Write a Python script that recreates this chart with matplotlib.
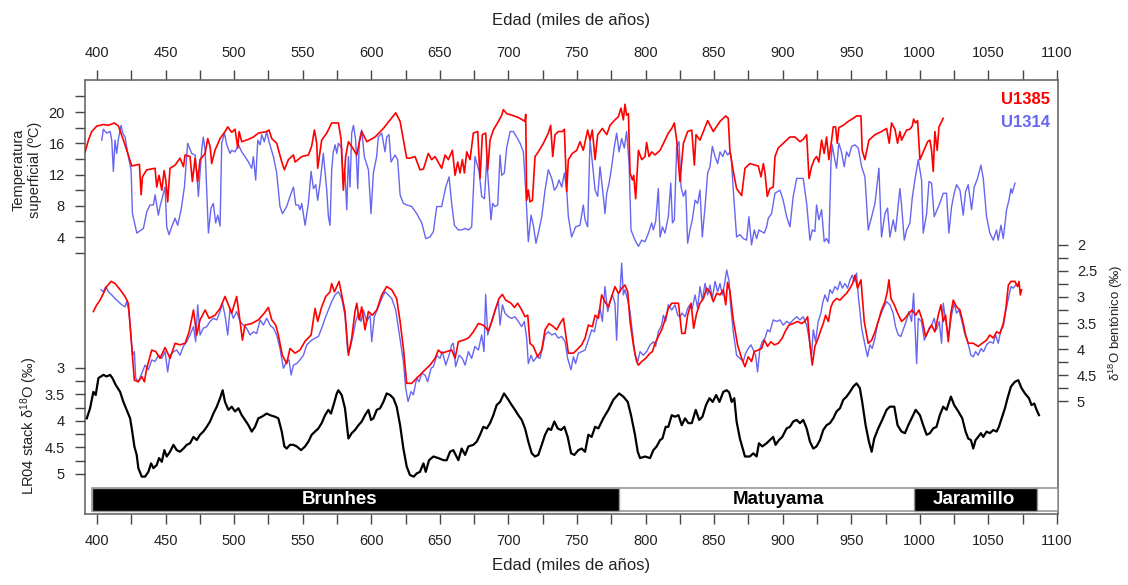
"""
Temperatura superficial y d18O bentonico de U1385 / U1314 frente al stack LR04.
"""

import matplotlib
matplotlib.use("Agg")
import matplotlib.pyplot as plt
import matplotlib.transforms as mtransforms
from matplotlib.patches import Rectangle
from matplotlib.ticker import FixedLocator, FuncFormatter, MultipleLocator

plt.rcParams["font.family"] = ["Liberation Sans", "DejaVu Sans"]
plt.rcParams["mathtext.fontset"] = "custom"
plt.rcParams["mathtext.rm"] = "Liberation Sans"
plt.rcParams["mathtext.it"] = "Liberation Sans:italic"

# --- datos (edad ka, valor) ---
u1385_sst = [
    (391.3, 14.9), (393.7, 16.4), (396.1, 17.5), (399.8, 18.2), (404.6, 18.4), (408.3, 18.3),
    (412.6, 18.6), (415.6, 18.2), (419.2, 16.4), (422.8, 14.5), (425.3, 13.1), (430.9, 13.3),
    (432.1, 9.4), (433.1, 11.7), (436.2, 12.6), (442.3, 12.8), (443.5, 10.4), (445.2, 11.9),
    (447.2, 10.0), (448.9, 12.5), (450.1, 11.3), (451.5, 8.5), (453.2, 12.8), (456.9, 13.2),
    (460.5, 14.1), (463.0, 13.0), (464.2, 14.5), (467.8, 14.3), (469.5, 11.1), (471.5, 14.1),
    (473.4, 11.1), (475.1, 13.9), (478.8, 14.7), (480.7, 16.6), (482.4, 15.6), (483.6, 13.4),
    (486.0, 15.1), (489.7, 16.6), (493.3, 17.5), (495.3, 18.1), (498.2, 17.4), (500.6, 17.8),
    (502.6, 15.4), (503.6, 17.5), (505.5, 16.2), (510.4, 16.5), (514.0, 16.8), (517.6, 17.3),
    (523.7, 17.5), (525.4, 17.7), (527.4, 16.6), (531.0, 16.0), (534.7, 13.6), (536.6, 12.6),
    (539.5, 13.9), (543.2, 14.5), (544.4, 13.6), (549.3, 14.3), (554.1, 14.5), (556.5, 15.6),
    (558.5, 17.7), (560.2, 16.0), (560.9, 12.8), (563.8, 16.4), (567.5, 17.3), (571.1, 18.6),
    (576.0, 18.6), (577.9, 16.6), (579.6, 10.0), (581.3, 14.3), (583.3, 16.2), (585.7, 15.6),
    (589.4, 14.5), (591.1, 16.0), (593.0, 17.5), (596.7, 16.2), (602.7, 16.8), (608.8, 17.9),
    (613.7, 19.0), (617.8, 19.9), (621.0, 18.8), (625.8, 14.1), (628.2, 14.1), (631.9, 14.3),
    (635.5, 12.6), (638.0, 12.7), (641.6, 14.7), (644.0, 13.9), (646.5, 14.3), (651.3, 12.8),
    (653.8, 14.5), (656.2, 13.9), (659.1, 15.1), (661.1, 11.9), (663.0, 13.6), (664.7, 12.2),
    (666.4, 13.9), (667.9, 12.2), (669.6, 14.9), (672.0, 13.9), (674.4, 17.3), (677.6, 17.5),
    (679.3, 11.5), (681.0, 17.1), (683.4, 17.3), (684.9, 12.6), (686.6, 16.4), (689.0, 17.7),
    (692.7, 18.8), (695.1, 19.6), (696.3, 20.3), (698.7, 19.8), (702.4, 19.6), (707.2, 19.3),
    (712.1, 18.8), (712.6, 19.7), (713.3, 8.7), (714.5, 10.0), (715.7, 8.5), (717.5, 8.7),
    (719.4, 14.3), (721.8, 14.9), (725.5, 16.0), (729.1, 17.3), (730.8, 18.3), (732.3, 14.3),
    (734.0, 17.1), (736.4, 17.5), (739.3, 17.5), (740.8, 17.8), (742.5, 9.8), (743.7, 13.9),
    (746.6, 14.7), (749.8, 15.1), (752.2, 16.2), (754.6, 15.1), (757.8, 17.7), (759.5, 16.4),
    (761.2, 17.7), (763.2, 13.9), (765.1, 17.1), (768.5, 17.9), (771.7, 17.1), (774.1, 18.3),
    (777.7, 19.0), (780.2, 19.4), (782.1, 20.5), (783.8, 19.0), (785.0, 21.0), (786.2, 19.6),
    (787.5, 19.8), (788.7, 12.2), (790.4, 11.3), (791.4, 11.9), (792.8, 8.9), (794.8, 15.1),
    (797.2, 13.9), (799.6, 14.3), (800.8, 16.1), (802.5, 14.3), (804.5, 14.9), (806.9, 14.5),
    (810.6, 15.1), (814.2, 16.4), (816.6, 17.3), (819.1, 17.9), (821.0, 18.6), (822.7, 16.4),
    (825.1, 11.1), (827.6, 16.0), (830.7, 17.5), (833.7, 17.7), (835.6, 13.2), (836.8, 17.1),
    (839.7, 16.4), (842.2, 17.5), (845.3, 18.9), (849.4, 17.5), (854.3, 18.8), (858.5, 19.5),
    (860.3, 19.2), (861.5, 15.1), (864.0, 12.4), (866.4, 10.2), (870.1, 9.3), (872.5, 12.8),
    (876.1, 13.4), (879.8, 13.2), (882.2, 13.1), (884.2, 11.7), (885.9, 13.4), (887.1, 12.2),
    (888.8, 9.2), (890.7, 10.2), (893.1, 10.4), (894.4, 14.3), (896.8, 15.4), (900.4, 16.0),
    (905.3, 16.8), (909.0, 16.8), (912.6, 16.2), (915.0, 16.5), (917.5, 17.1), (919.2, 11.5),
    (921.1, 13.0), (923.0, 13.9), (924.7, 14.3), (926.4, 13.6), (928.4, 16.4), (930.3, 14.7),
    (932.0, 16.8), (933.7, 13.9), (935.7, 16.4), (936.9, 18.1), (938.6, 18.1), (939.8, 16.0),
    (941.0, 18.0), (944.2, 18.3), (947.8, 18.8), (951.5, 19.2), (953.9, 19.5), (957.1, 19.5),
    (958.0, 15.1), (960.0, 13.9), (962.9, 16.4), (967.3, 17.1), (972.1, 17.5), (975.8, 17.9),
    (977.7, 16.0), (979.4, 18.6), (981.9, 17.8), (983.8, 16.0), (985.5, 17.5), (986.7, 16.4),
    (990.4, 17.7), (992.8, 17.8), (994.5, 18.2), (995.5, 19.1), (996.9, 18.6), (998.4, 18.9),
    (1000.1, 13.9), (1002.5, 14.9), (1005.7, 16.2), (1007.4, 16.4), (1008.6, 15.1), (1009.8, 12.4),
    (1011.0, 17.5), (1012.7, 15.1), (1014.0, 18.1), (1017.1, 19.2),
]

u1314_sst = [
    (403.4, 16.4), (404.6, 17.8), (407.0, 17.3), (409.5, 17.5), (410.7, 16.4), (411.9, 12.4),
    (413.1, 16.4), (414.3, 14.7), (415.6, 16.6), (417.5, 18.3), (418.7, 17.3), (420.4, 16.8),
    (422.8, 14.3), (424.8, 12.6), (425.8, 7.0), (429.0, 4.5), (433.8, 5.1), (436.2, 7.2),
    (438.6, 8.1), (441.1, 8.1), (442.3, 9.4), (444.7, 6.8), (445.9, 7.9), (449.6, 10.4),
    (450.8, 5.3), (452.5, 4.3), (454.4, 5.3), (456.9, 6.4), (458.8, 5.5), (461.3, 7.5),
    (463.7, 10.4), (466.1, 16.0), (469.0, 14.7), (471.5, 14.5), (472.7, 12.2), (473.9, 9.2),
    (476.3, 15.1), (477.5, 16.8), (478.8, 15.1), (481.2, 4.5), (483.1, 7.7), (484.8, 8.3),
    (486.5, 5.8), (488.0, 6.8), (489.7, 5.4), (490.9, 16.0), (492.9, 17.3), (494.6, 15.8),
    (497.0, 14.7), (498.2, 15.1), (500.6, 14.9), (503.1, 15.8), (505.5, 14.9), (507.9, 14.3),
    (510.4, 13.6), (512.8, 12.8), (514.0, 14.3), (515.7, 11.3), (517.2, 16.4), (518.9, 15.8),
    (520.1, 17.1), (522.0, 16.2), (523.7, 17.5), (525.4, 16.2), (528.6, 14.3), (531.0, 12.2),
    (533.4, 7.9), (535.2, 7.0), (538.3, 7.9), (540.7, 9.2), (543.2, 10.4), (544.9, 8.1),
    (546.8, 8.1), (548.0, 7.5), (549.3, 8.3), (551.7, 5.5), (554.1, 8.3), (556.1, 12.4),
    (557.8, 10.2), (559.5, 10.7), (560.9, 8.7), (562.6, 10.9), (565.0, 14.7), (567.5, 10.0),
    (568.7, 6.6), (569.9, 5.5), (571.1, 12.6), (572.3, 14.9), (573.6, 15.8), (574.8, 14.7),
    (576.0, 16.0), (578.4, 15.4), (579.6, 10.9), (580.8, 12.2), (582.1, 7.5), (583.3, 14.3),
    (584.5, 10.4), (585.7, 17.3), (587.0, 18.3), (588.6, 16.4), (590.1, 10.2), (591.3, 16.4),
    (593.0, 17.7), (594.9, 14.3), (597.9, 12.6), (599.8, 7.0), (601.5, 12.2), (603.9, 14.3),
    (605.1, 16.8), (607.6, 17.3), (610.0, 14.9), (611.2, 16.8), (612.9, 17.1), (614.4, 13.6),
    (617.3, 14.5), (619.2, 13.9), (621.0, 9.4), (623.4, 8.3), (626.0, 8.1), (629.5, 7.9),
    (633.1, 7.0), (636.8, 5.8), (639.7, 3.8), (642.8, 4.0), (645.3, 4.7), (647.7, 7.9),
    (651.3, 7.9), (654.3, 10.4), (656.7, 11.7), (658.6, 8.3), (660.6, 5.5), (663.5, 4.9),
    (666.0, 4.9), (668.4, 5.1), (670.8, 4.9), (673.2, 5.3), (675.6, 14.3), (678.6, 12.4),
    (680.5, 9.2), (682.5, 8.9), (684.2, 13.9), (685.9, 9.6), (687.3, 6.2), (688.5, 8.3),
    (690.2, 7.9), (692.2, 8.1), (693.9, 14.5), (695.1, 11.9), (697.0, 12.2), (698.7, 15.4),
    (701.2, 17.5), (703.6, 17.5), (706.0, 16.8), (708.5, 16.0), (710.9, 14.9), (712.6, 10.0),
    (714.5, 3.4), (716.5, 6.8), (718.2, 5.5), (720.1, 3.2), (721.8, 4.5), (724.3, 6.6),
    (726.7, 10.0), (729.1, 12.6), (731.6, 11.5), (733.5, 10.0), (735.2, 10.4), (736.9, 11.3),
    (738.9, 10.4), (740.8, 12.2), (742.5, 10.0), (743.7, 6.6), (746.1, 4.0), (749.0, 5.3),
    (752.2, 5.5), (754.6, 8.1), (755.9, 6.2), (757.8, 5.3), (759.5, 16.4), (761.4, 13.2),
    (763.2, 10.0), (765.1, 9.2), (766.8, 13.0), (769.2, 9.2), (770.4, 7.0), (771.7, 9.6),
    (773.4, 10.9), (775.3, 13.0), (777.3, 15.6), (778.9, 17.3), (780.7, 14.9), (782.6, 16.6),
    (784.5, 15.4), (786.2, 17.5), (788.0, 13.4), (789.4, 4.9), (792.3, 3.6), (794.8, 2.8),
    (797.2, 3.6), (799.6, 3.4), (802.1, 4.5), (804.5, 5.8), (805.7, 4.9), (807.4, 6.0),
    (809.3, 10.2), (810.6, 4.0), (812.3, 5.3), (814.2, 4.5), (816.6, 6.6), (818.4, 10.9),
    (819.6, 5.8), (821.0, 6.2), (822.7, 15.4), (824.4, 16.2), (825.9, 10.4), (827.6, 9.2),
    (829.3, 10.0), (830.7, 3.2), (832.4, 4.9), (834.1, 6.2), (836.1, 8.7), (838.0, 8.3),
    (839.7, 10.0), (841.4, 4.0), (843.4, 7.9), (845.3, 12.2), (847.0, 13.0), (848.7, 15.6),
    (850.7, 14.3), (852.6, 13.4), (854.3, 14.9), (856.3, 14.3), (858.0, 15.1), (859.9, 14.5),
    (861.6, 14.9), (862.5, 14.1), (864.0, 10.0), (866.4, 4.0), (868.8, 4.3), (871.3, 3.8),
    (873.7, 3.6), (875.4, 6.6), (877.3, 3.0), (879.3, 4.9), (881.0, 3.8), (882.7, 4.9),
    (884.6, 4.7), (886.6, 4.5), (888.3, 5.3), (889.5, 6.4), (891.9, 7.0), (894.4, 9.6),
    (898.0, 10.0), (900.4, 8.7), (902.9, 6.6), (905.3, 5.3), (907.7, 9.2), (910.2, 11.5),
    (915.0, 11.5), (917.5, 8.3), (919.9, 3.6), (921.6, 4.9), (923.5, 4.7), (924.7, 8.1),
    (926.4, 6.2), (928.4, 7.5), (930.3, 3.4), (932.0, 3.8), (933.7, 3.2), (935.2, 13.4),
    (936.1, 15.8), (937.6, 14.3), (939.3, 12.8), (941.0, 16.0), (942.9, 14.9), (944.9, 13.0),
    (946.6, 14.9), (948.3, 14.3), (950.3, 15.6), (952.7, 15.8), (955.1, 15.4), (957.6, 13.0),
    (960.0, 11.7), (962.4, 4.9), (964.9, 6.6), (967.3, 8.3), (970.2, 12.8), (972.1, 4.0),
    (974.6, 7.0), (976.5, 7.7), (978.2, 4.0), (980.6, 6.2), (982.3, 4.7), (984.3, 8.1),
    (985.5, 10.2), (986.7, 8.1), (988.7, 3.6), (990.4, 4.9), (992.8, 5.8), (994.5, 9.0),
    (996.4, 11.3), (998.9, 13.9), (1001.3, 11.3), (1002.5, 4.5), (1005.0, 7.0), (1006.7, 11.1),
    (1008.6, 10.9), (1010.5, 6.6), (1012.2, 7.3), (1014.6, 8.3), (1017.1, 9.6), (1019.5, 9.6),
    (1021.2, 4.5), (1023.2, 7.9), (1025.1, 9.6), (1026.8, 10.7), (1029.3, 10.0), (1031.7, 6.8),
    (1033.4, 9.8), (1035.3, 10.7), (1037.8, 7.5), (1039.7, 10.4), (1042.1, 11.5), (1044.6, 13.2),
    (1046.3, 11.5), (1048.7, 6.6), (1051.1, 4.5), (1053.6, 3.6), (1056.0, 4.9), (1057.2, 3.6),
    (1059.2, 5.5), (1060.9, 3.8), (1063.3, 7.5), (1065.0, 8.7), (1066.5, 10.2), (1067.4, 9.6),
    (1069.4, 10.9),
]

u1385_d18o = [
    (397.3, 3.28), (399.8, 3.15), (402.2, 3.06), (404.6, 2.93), (407.0, 2.80), (410.2, 2.70),
    (413.1, 2.74), (416.8, 2.86), (420.4, 2.99), (422.8, 3.12), (424.8, 3.79), (427.2, 4.60),
    (430.1, 4.63), (432.6, 4.53), (434.5, 4.63), (436.2, 4.37), (439.9, 4.02), (442.8, 4.05),
    (445.9, 4.18), (449.6, 3.97), (453.2, 4.18), (456.9, 3.89), (460.5, 3.92), (464.2, 3.89),
    (467.1, 3.67), (470.3, 3.25), (472.7, 3.73), (475.1, 3.44), (478.8, 3.25), (481.7, 3.41),
    (486.0, 3.35), (489.7, 3.22), (493.3, 2.99), (495.3, 3.12), (498.2, 3.31), (501.8, 2.99),
    (504.3, 3.47), (506.0, 3.83), (507.9, 3.54), (512.8, 3.51), (517.6, 3.44), (522.0, 3.31),
    (524.9, 3.20), (527.4, 3.44), (530.3, 3.54), (532.2, 3.73), (535.1, 4.12), (538.3, 4.28),
    (540.7, 3.99), (544.4, 4.08), (548.0, 4.02), (551.7, 3.85), (556.1, 3.73), (559.0, 3.22),
    (560.9, 3.47), (563.8, 3.19), (566.8, 2.99), (569.9, 2.90), (571.1, 2.74), (573.1, 2.90),
    (574.8, 2.80), (576.5, 2.70), (578.4, 2.96), (580.8, 3.28), (583.3, 4.12), (585.7, 3.79),
    (588.1, 3.28), (589.4, 3.12), (591.1, 3.44), (593.0, 3.19), (595.4, 3.63), (597.9, 3.28),
    (600.8, 3.35), (604.0, 3.25), (607.6, 2.96), (611.2, 2.80), (614.9, 2.86), (618.5, 3.03),
    (621.0, 3.47), (623.4, 3.99), (625.8, 4.66), (629.5, 4.66), (633.1, 4.56), (635.5, 4.50),
    (639.2, 4.40), (642.8, 4.31), (646.5, 4.18), (648.9, 4.02), (651.3, 4.08), (655.0, 4.05),
    (658.6, 4.02), (661.1, 4.18), (663.5, 3.86), (667.1, 3.83), (670.8, 3.79), (674.4, 3.67),
    (678.1, 3.51), (681.7, 3.54), (685.4, 3.65), (688.3, 3.44), (690.7, 3.22), (693.1, 3.03),
    (695.6, 2.95), (698.0, 3.06), (701.9, 3.12), (704.3, 3.20), (706.8, 3.12), (709.7, 3.25),
    (712.1, 3.38), (714.1, 3.35), (715.7, 3.89), (718.2, 3.95), (721.3, 4.15), (724.3, 4.02),
    (726.7, 3.63), (729.6, 3.51), (732.8, 3.57), (735.2, 3.63), (737.6, 3.51), (740.1, 3.41),
    (741.8, 3.73), (743.7, 4.08), (747.4, 4.08), (749.8, 4.02), (753.4, 3.92), (755.9, 3.79),
    (758.3, 3.54), (761.2, 3.57), (763.2, 3.35), (765.6, 3.41), (768.0, 2.96), (770.4, 3.09),
    (772.9, 3.19), (775.3, 2.99), (777.7, 2.80), (780.2, 2.93), (782.6, 2.83), (785.0, 2.77),
    (787.0, 2.90), (788.7, 3.47), (791.1, 3.92), (793.5, 4.24), (794.8, 4.31), (797.2, 4.24),
    (800.1, 4.18), (803.3, 4.08), (805.0, 4.05), (806.9, 3.89), (809.3, 3.76), (811.8, 3.63),
    (814.2, 3.44), (816.6, 3.22), (819.1, 3.12), (824.0, 3.12), (826.4, 3.70), (828.8, 3.70),
    (830.7, 3.35), (833.2, 3.12), (835.1, 3.60), (837.3, 3.31), (839.7, 3.12), (842.2, 3.03),
    (844.6, 2.83), (847.0, 2.90), (849.4, 3.09), (851.9, 2.93), (854.3, 2.96), (856.7, 2.86),
    (858.5, 3.15), (859.8, 2.72), (861.5, 2.88), (864.0, 3.44), (867.1, 3.92), (870.1, 4.18),
    (872.5, 4.34), (874.9, 4.15), (877.3, 4.24), (879.3, 4.05), (882.2, 4.02), (884.6, 3.99),
    (886.6, 3.83), (889.0, 3.95), (891.4, 3.86), (893.9, 3.92), (896.8, 3.89), (899.7, 3.79),
    (901.7, 3.67), (904.6, 3.54), (907.7, 3.51), (910.9, 3.47), (913.8, 3.51), (916.2, 3.47),
    (918.2, 3.38), (919.9, 3.92), (921.6, 4.31), (923.5, 3.95), (925.9, 3.79), (927.9, 3.63),
    (929.6, 3.51), (931.3, 3.35), (933.3, 3.47), (935.2, 3.19), (936.9, 3.09), (939.3, 3.03),
    (941.8, 3.06), (944.2, 2.99), (946.6, 2.93), (949.1, 2.83), (951.0, 2.74), (952.7, 2.58),
    (954.6, 2.83), (957.1, 2.67), (959.5, 3.47), (962.4, 3.89), (964.9, 3.83), (967.3, 3.67),
    (969.7, 3.47), (972.1, 3.25), (974.6, 3.09), (976.3, 2.90), (977.5, 2.67), (979.0, 3.03),
    (981.4, 3.15), (983.8, 3.31), (986.7, 3.47), (989.2, 3.41), (992.1, 3.31), (994.5, 3.25),
    (997.0, 3.35), (999.4, 3.25), (1001.8, 3.44), (1004.2, 3.76), (1006.7, 3.63), (1008.6, 3.54),
    (1011.0, 3.67), (1013.5, 3.35), (1015.4, 3.15), (1017.1, 3.47), (1018.8, 3.35), (1020.8, 3.86),
    (1022.7, 3.31), (1024.4, 3.06), (1026.8, 3.19), (1029.3, 3.25), (1031.7, 3.51), (1033.4, 3.73),
    (1035.3, 3.89), (1039.0, 3.89), (1042.6, 3.95), (1045.5, 3.89), (1048.7, 3.83), (1051.1, 3.73),
    (1053.6, 3.79), (1056.0, 3.67), (1058.5, 3.70), (1060.9, 3.51), (1062.8, 3.22), (1064.6, 2.77),
    (1066.5, 2.70), (1069.4, 2.70), (1071.3, 2.80), (1072.3, 2.70), (1073.3, 2.96), (1074.2, 2.86),
]

u1314_d18o = [
    (402.9, 2.86), (404.6, 2.90), (406.3, 2.80), (408.3, 2.90), (410.7, 2.96), (413.1, 3.03),
    (415.6, 3.09), (418.0, 3.15), (420.4, 3.19), (421.6, 3.09), (423.3, 3.28), (424.8, 3.76),
    (425.8, 4.12), (427.2, 4.05), (428.2, 4.56), (430.1, 4.63), (432.6, 4.47), (435.0, 4.31),
    (437.4, 4.40), (439.9, 4.21), (442.3, 4.24), (444.7, 4.12), (447.2, 4.18), (449.6, 4.05),
    (451.5, 4.44), (453.2, 4.12), (455.7, 4.05), (458.1, 4.02), (460.5, 4.12), (462.9, 3.95),
    (465.4, 3.86), (467.8, 3.73), (470.3, 3.57), (471.9, 3.86), (473.4, 3.15), (475.1, 3.73),
    (477.5, 3.60), (480.0, 3.57), (482.4, 3.47), (484.8, 3.41), (487.3, 3.44), (489.7, 3.28),
    (491.4, 3.12), (493.3, 3.35), (495.3, 3.73), (497.0, 3.22), (499.4, 3.41), (501.8, 3.28),
    (504.3, 3.47), (506.7, 3.54), (509.1, 3.60), (511.6, 3.73), (514.0, 3.67), (516.4, 3.70),
    (518.9, 3.44), (521.3, 3.54), (523.7, 3.41), (526.2, 3.54), (528.6, 3.60), (531.0, 3.73),
    (533.4, 3.99), (535.9, 4.37), (538.3, 4.24), (540.0, 4.21), (541.5, 4.50), (543.2, 4.31),
    (545.6, 4.28), (548.0, 4.21), (550.5, 4.12), (552.9, 3.92), (556.5, 3.83), (559.0, 3.79),
    (561.4, 3.76), (563.8, 3.60), (566.3, 3.41), (568.7, 3.25), (571.1, 3.09), (573.6, 2.96),
    (576.0, 2.90), (578.4, 3.03), (580.8, 3.35), (582.8, 4.05), (584.5, 3.99), (587.0, 3.70),
    (588.6, 3.47), (590.6, 3.31), (592.5, 3.47), (594.2, 3.25), (596.7, 3.47), (599.1, 3.35),
    (600.3, 3.86), (602.2, 3.38), (604.7, 3.22), (607.6, 3.03), (610.0, 2.90), (612.4, 2.96),
    (614.9, 3.03), (617.8, 3.25), (620.2, 3.67), (623.4, 4.24), (625.1, 4.76), (626.8, 5.01),
    (629.0, 4.82), (630.7, 4.88), (633.1, 4.56), (634.8, 4.63), (636.8, 4.47), (639.2, 4.50),
    (641.1, 4.63), (643.6, 4.37), (645.3, 4.34), (647.7, 4.12), (650.1, 4.18), (651.8, 4.05),
    (654.3, 4.31), (656.7, 4.12), (658.6, 3.92), (659.8, 3.89), (661.5, 4.34), (664.0, 4.12),
    (666.4, 4.18), (668.4, 4.31), (670.8, 4.05), (673.2, 4.18), (675.6, 3.95), (678.1, 4.02),
    (680.5, 3.73), (682.2, 4.05), (683.4, 2.95), (684.9, 3.73), (686.6, 3.57), (688.3, 3.41),
    (690.7, 3.22), (692.7, 3.09), (693.9, 3.54), (695.6, 3.15), (697.5, 3.31), (700.0, 3.38),
    (702.4, 3.41), (704.8, 3.38), (707.2, 3.47), (709.7, 3.57), (711.6, 3.47), (713.3, 3.79),
    (714.5, 4.28), (716.5, 4.12), (718.2, 4.24), (720.6, 4.15), (723.0, 4.18), (724.7, 3.99),
    (726.7, 3.73), (729.1, 3.67), (731.6, 3.73), (734.0, 3.70), (736.4, 3.79), (738.9, 3.76),
    (741.3, 3.86), (743.2, 4.18), (745.6, 4.40), (747.4, 4.15), (749.0, 4.28), (751.0, 4.08),
    (753.4, 4.05), (755.9, 4.02), (758.3, 3.83), (760.7, 3.63), (762.7, 3.67), (764.4, 3.44),
    (766.8, 3.22), (768.5, 3.47), (770.4, 2.80), (772.4, 3.28), (774.1, 3.09), (775.8, 2.96),
    (777.7, 3.12), (778.9, 3.83), (780.2, 2.93), (781.4, 2.90), (782.6, 2.35), (783.8, 2.96),
    (785.0, 2.86), (787.0, 3.06), (788.7, 3.28), (790.4, 3.67), (792.3, 4.12), (794.3, 4.24),
    (796.0, 4.05), (798.4, 4.12), (800.8, 4.05), (803.3, 3.92), (805.7, 3.86), (807.4, 3.95),
    (809.3, 3.67), (811.8, 3.54), (813.0, 3.35), (814.7, 3.47), (816.6, 3.15), (819.1, 3.25),
    (821.5, 3.15), (823.4, 3.35), (825.1, 3.38), (826.8, 3.31), (828.8, 3.38), (830.7, 3.22),
    (832.4, 3.15), (834.1, 3.22), (836.1, 2.96), (838.0, 3.22), (839.7, 2.80), (841.4, 3.06),
    (843.4, 2.74), (845.3, 2.96), (847.0, 2.77), (848.7, 3.03), (850.7, 2.70), (852.6, 2.90),
    (854.3, 2.74), (856.0, 2.96), (857.5, 2.77), (859.2, 2.48), (860.9, 2.70), (862.0, 3.15),
    (864.0, 3.67), (866.4, 4.12), (868.8, 4.18), (871.3, 4.24), (873.0, 4.08), (874.9, 3.99),
    (876.9, 3.92), (878.6, 4.02), (880.3, 4.12), (881.7, 4.44), (883.4, 3.99), (885.1, 3.86),
    (887.1, 3.79), (889.0, 3.63), (890.7, 3.67), (893.1, 3.44), (895.6, 3.47), (898.0, 3.44),
    (900.4, 3.54), (902.9, 3.47), (905.3, 3.51), (907.7, 3.44), (910.2, 3.38), (912.6, 3.44),
    (915.0, 3.38), (917.5, 3.54), (919.2, 3.79), (921.1, 4.12), (922.3, 3.63), (924.0, 3.86),
    (925.9, 3.47), (927.9, 3.31), (929.1, 3.12), (930.8, 2.96), (932.8, 3.09), (934.5, 2.86),
    (936.2, 2.93), (938.1, 2.80), (940.1, 2.86), (941.8, 2.70), (943.5, 2.83), (945.4, 2.74),
    (947.3, 2.83), (949.1, 2.67), (950.8, 2.58), (952.2, 2.70), (953.9, 2.54), (955.1, 2.96),
    (957.6, 3.60), (960.0, 3.92), (961.9, 4.15), (963.6, 3.92), (965.3, 3.99), (967.3, 3.79),
    (969.2, 3.51), (970.9, 3.38), (973.4, 3.22), (975.8, 3.09), (978.2, 3.15), (980.6, 3.31),
    (982.3, 3.57), (984.3, 3.73), (986.2, 3.76), (987.9, 3.63), (990.4, 3.44), (992.1, 3.28),
    (994.0, 3.47), (995.5, 2.93), (996.4, 3.47), (997.7, 4.28), (998.9, 3.41), (1001.3, 3.47),
    (1003.3, 3.83), (1005.0, 3.73), (1006.7, 3.60), (1008.6, 3.54), (1010.5, 3.41), (1012.2, 3.63),
    (1014.2, 3.47), (1015.9, 3.89), (1017.1, 3.12), (1018.8, 3.44), (1020.8, 3.76), (1023.2, 3.35),
    (1025.1, 3.12), (1026.8, 3.31), (1028.5, 3.25), (1030.5, 3.44), (1032.4, 3.67), (1034.9, 3.86),
    (1037.3, 4.12), (1039.0, 4.15), (1040.7, 4.05), (1042.6, 4.12), (1044.6, 3.99), (1046.5, 4.05),
    (1048.7, 3.92), (1051.1, 3.86), (1053.6, 3.89), (1055.3, 3.73), (1057.2, 3.89), (1059.2, 3.63),
    (1060.9, 3.57), (1062.6, 3.28), (1064.6, 3.03), (1066.5, 2.80), (1068.2, 2.83), (1069.9, 2.77),
]

lr04_d18o = [
    (392.5, 3.95), (394.9, 3.76), (397.3, 3.45), (399.0, 3.51), (401.0, 3.19), (404.6, 3.13),
    (407.0, 3.16), (409.5, 3.13), (411.2, 3.19), (413.6, 3.32), (416.8, 3.45), (419.2, 3.64),
    (421.6, 3.79), (424.1, 3.95), (425.3, 4.14), (427.2, 4.48), (428.9, 4.64), (430.1, 4.89),
    (432.6, 5.05), (435.0, 5.05), (437.4, 4.96), (439.4, 4.80), (441.1, 4.89), (443.5, 4.83),
    (445.2, 4.70), (447.2, 4.77), (449.1, 4.55), (450.8, 4.67), (453.2, 4.58), (455.7, 4.45),
    (458.1, 4.55), (460.5, 4.58), (463.0, 4.52), (465.4, 4.45), (467.8, 4.42), (470.3, 4.30),
    (472.7, 4.36), (475.1, 4.26), (477.5, 4.20), (480.0, 4.11), (482.4, 4.01), (484.8, 3.86),
    (487.3, 3.73), (489.7, 3.57), (491.6, 3.42), (493.3, 3.64), (495.8, 3.79), (498.2, 3.73),
    (500.6, 3.82), (503.1, 3.76), (505.5, 3.89), (507.9, 3.98), (510.4, 4.08), (512.8, 4.20),
    (515.2, 4.11), (517.6, 3.95), (520.1, 3.92), (523.7, 3.86), (526.2, 3.89), (529.8, 3.92),
    (532.2, 3.95), (534.7, 4.20), (536.6, 4.48), (538.3, 4.52), (540.7, 4.45), (543.2, 4.45),
    (545.6, 4.48), (548.8, 4.55), (551.7, 4.48), (554.1, 4.39), (556.5, 4.26), (559.0, 4.20),
    (561.4, 4.14), (563.8, 4.04), (566.3, 3.89), (568.7, 3.79), (570.6, 3.86), (573.1, 3.64),
    (574.8, 3.48), (576.0, 3.42), (578.4, 3.51), (580.8, 3.76), (583.3, 4.33), (585.7, 4.23),
    (588.1, 4.17), (590.6, 4.08), (593.0, 4.01), (595.4, 3.89), (597.9, 3.79), (599.8, 3.98),
    (601.5, 3.95), (604.0, 3.79), (606.4, 3.76), (608.8, 3.64), (611.2, 3.48), (613.7, 3.51),
    (616.1, 3.57), (618.5, 3.73), (621.0, 4.08), (623.4, 4.52), (625.8, 4.86), (628.2, 5.02),
    (631.0, 5.05), (633.1, 4.99), (635.5, 4.96), (638.0, 4.80), (639.7, 4.96), (642.1, 4.74),
    (645.3, 4.67), (648.9, 4.70), (652.6, 4.74), (655.0, 4.74), (657.4, 4.58), (659.8, 4.55),
    (663.5, 4.74), (665.9, 4.52), (668.4, 4.64), (670.8, 4.48), (674.4, 4.45), (676.9, 4.39),
    (679.3, 4.26), (681.7, 4.11), (684.2, 4.14), (686.6, 4.04), (689.0, 3.89), (691.4, 3.70),
    (693.9, 3.64), (696.8, 3.48), (700.0, 3.60), (702.4, 3.70), (704.8, 3.79), (707.2, 3.89),
    (709.7, 3.98), (712.1, 4.14), (714.5, 4.39), (717.0, 4.61), (719.4, 4.67), (721.8, 4.64),
    (724.3, 4.45), (726.7, 4.26), (729.1, 4.14), (731.1, 4.17), (733.5, 4.01), (735.9, 4.14),
    (738.4, 4.17), (740.8, 4.11), (743.2, 4.30), (745.7, 4.61), (748.1, 4.64), (751.0, 4.55),
    (753.4, 4.52), (755.9, 4.58), (758.3, 4.26), (760.7, 4.30), (763.2, 4.11), (765.6, 4.14),
    (769.2, 3.95), (772.9, 3.79), (776.5, 3.60), (780.7, 3.48), (783.8, 3.54), (787.0, 3.64),
    (789.4, 3.89), (792.3, 4.26), (794.3, 4.58), (796.0, 4.70), (799.6, 4.67), (803.3, 4.70),
    (805.7, 4.55), (808.1, 4.48), (810.6, 4.36), (812.3, 4.33), (814.7, 4.11), (816.6, 4.11),
    (819.1, 3.89), (821.5, 3.92), (824.0, 3.89), (826.4, 4.08), (828.8, 3.95), (831.2, 4.04),
    (833.7, 4.04), (836.6, 3.79), (839.1, 3.98), (841.5, 3.92), (844.1, 3.70), (846.6, 3.57),
    (849.0, 3.64), (851.5, 3.51), (853.9, 3.64), (856.7, 3.45), (859.2, 3.42), (861.0, 3.46),
    (862.8, 3.64), (864.7, 3.57), (866.4, 4.01), (868.8, 4.33), (872.5, 4.67), (876.1, 4.67),
    (878.6, 4.61), (881.0, 4.67), (882.7, 4.42), (885.1, 4.48), (888.3, 4.42), (890.7, 4.36),
    (893.1, 4.30), (894.8, 4.45), (897.3, 4.36), (899.7, 4.30), (902.9, 4.14), (905.3, 4.11),
    (907.7, 4.01), (910.2, 3.98), (912.6, 4.04), (915.0, 3.98), (917.5, 4.14), (919.9, 4.39),
    (922.3, 4.52), (924.7, 4.48), (927.2, 4.36), (929.6, 4.17), (932.0, 4.08), (934.5, 4.04),
    (936.9, 3.95), (939.3, 3.82), (941.8, 3.76), (944.2, 3.60), (946.6, 3.54), (949.1, 3.45),
    (951.5, 3.35), (953.9, 3.29), (956.3, 3.38), (958.0, 3.64), (960.5, 4.08), (962.9, 4.39),
    (964.9, 4.58), (966.8, 4.33), (969.7, 4.14), (972.6, 3.98), (975.8, 3.79), (978.2, 3.73),
    (981.4, 3.73), (983.8, 4.08), (986.7, 4.20), (989.2, 4.23), (991.6, 4.08), (994.0, 3.95),
    (997.0, 3.79), (1000.1, 3.89), (1002.5, 4.08), (1005.0, 4.26), (1007.4, 4.23), (1009.8, 4.14),
    (1012.2, 4.11), (1014.6, 3.89), (1017.1, 3.73), (1019.5, 3.79), (1022.7, 3.54), (1025.1, 3.70),
    (1028.1, 3.82), (1031.0, 3.95), (1033.4, 4.20), (1035.3, 4.33), (1037.3, 4.36), (1039.0, 4.52),
    (1040.7, 4.36), (1042.6, 4.30), (1044.6, 4.23), (1046.3, 4.30), (1048.7, 4.20), (1051.1, 4.23),
    (1053.6, 4.17), (1056.0, 4.20), (1057.7, 4.11), (1059.7, 3.95), (1062.1, 3.76), (1064.0, 3.57),
    (1066.5, 3.35), (1069.4, 3.26), (1071.8, 3.23), (1074.2, 3.38), (1076.7, 3.48), (1079.6, 3.57),
    (1081.5, 3.70), (1083.5, 3.67), (1085.2, 3.79), (1086.9, 3.89),
]

# cronos magneticos: nombre, inicio, fin (ka), polaridad normal (negro)
chron_names = ["Brunhes", "Matuyama", "Jaramillo"]
chron_start = [396.4, 781.0, 995.8]
chron_end = [781.0, 995.8, 1085.2]
chron_normal = [True, False, True]
chron_label_age = [577.0, 897.0, 1039.5]

RED = "#ff0000"
BLUE = "#6666f0"
FRAME = "#6a6a6a"


def unzip(pairs):
    return [p[0] for p in pairs], [p[1] for p in pairs]


def fmt(v, _pos):
    return f"{v:g}"


def main():
    W, H = 1128, 585
    fig = plt.figure(figsize=(W / 100, H / 100), dpi=100)
    left, right, top, bottom = 85, 1058, 80, 514
    rect = [left / W, 1 - bottom / H, (right - left) / W, (bottom - top) / H]

    ax_t = fig.add_axes(rect)
    ax_b = fig.add_axes(rect, sharex=ax_t)
    ax_l = fig.add_axes(rect, sharex=ax_t)
    for a in (ax_b, ax_l):
        a.patch.set_visible(False)
        for s in a.spines.values():
            s.set_visible(False)
        a.xaxis.set_visible(False)

    ax_t.set_xlim(391.2, 1100.8)
    ax_t.set_ylim(-31.46, 24.10)
    ax_b.set_ylim(7.173, -1.173)
    ax_l.set_ylim(5.755, -2.434)

    # series
    x, y = unzip(u1385_sst)
    ax_t.plot(x, y, color=RED, lw=1.2, zorder=3)
    x, y = unzip(u1314_sst)
    ax_t.plot(x, y, color=BLUE, lw=1.0, zorder=2)
    x, y = unzip(u1314_d18o)
    ax_b.plot(x, y, color=BLUE, lw=1.0, zorder=2)
    x, y = unzip(u1385_d18o)
    ax_b.plot(x, y, color=RED, lw=1.2, zorder=3)
    x, y = unzip(lr04_d18o)
    ax_l.plot(x, y, color="black", lw=1.6)

    # marco y ejes
    for s in ax_t.spines.values():
        s.set_color(FRAME)
        s.set_linewidth(1.2)
    tick_kw = dict(direction="out", length=7.5, width=1.0, color="#444444",
                   labelsize=10.5, labelcolor="#222222")

    ax_t.xaxis.set_major_locator(MultipleLocator(50))
    ax_t.xaxis.set_minor_locator(MultipleLocator(25))
    ax_t.tick_params(axis="x", which="both", top=True, bottom=True,
                     labeltop=True, labelbottom=True, pad=7, **tick_kw)

    ax_t.yaxis.set_major_locator(FixedLocator([4, 8, 12, 16, 20]))
    ax_t.yaxis.set_minor_locator(FixedLocator([2, 6, 10, 14, 18, 22]))
    ax_t.tick_params(axis="y", which="both", pad=7, **tick_kw)

    ax_b.yaxis.tick_right()
    ax_b.yaxis.set_label_position("right")
    ax_b.yaxis.set_major_locator(FixedLocator([2, 2.5, 3, 3.5, 4, 4.5, 5]))
    ax_b.yaxis.set_minor_locator(FixedLocator([2.25, 2.75, 3.25, 3.75, 4.25, 4.75]))
    ax_b.yaxis.set_major_formatter(FuncFormatter(fmt))
    ax_b.tick_params(axis="y", which="both", pad=6, **tick_kw)

    ax_l.yaxis.set_major_locator(FixedLocator([3, 3.5, 4, 4.5, 5]))
    ax_l.yaxis.set_minor_locator(FixedLocator([3.25, 3.75, 4.25, 4.75]))
    ax_l.yaxis.set_major_formatter(FuncFormatter(fmt))
    ax_l.tick_params(axis="y", which="both", pad=7, **tick_kw)

    # etiquetas
    ax_t.set_xlabel("Edad (miles de años)", fontsize=12, labelpad=7, color="#222222")
    fig.text((left + right) / 2 / W, 1 - 20 / H, "Edad (miles de años)",
             fontsize=12, ha="center", va="center", color="#222222")
    ax_t.set_ylabel("Temperatura\nsuperficial (ºC)", fontsize=10.5, color="#222222")
    ax_t.yaxis.set_label_coords(-0.044, 0.793)
    ax_l.set_ylabel("LR04 stack δ$^{18}$O (‰)", fontsize=10.5, color="#222222")
    ax_l.yaxis.set_label_coords(-0.046, 0.203)
    ax_b.set_ylabel("δ$^{18}$O bentónico (‰)", fontsize=9.5, color="#222222")
    ax_b.yaxis.set_label_coords(1.0505, 0.44)

    ax_t.text(0.992, 0.954, "U1385", transform=ax_t.transAxes, color=RED,
              fontsize=12, fontweight="bold", ha="right", va="center")
    ax_t.text(0.992, 0.903, "U1314", transform=ax_t.transAxes, color=BLUE,
              fontsize=12, fontweight="bold", ha="right", va="center")

    # barra de cronos magneticos
    trans = mtransforms.blended_transform_factory(ax_t.transData, ax_t.transAxes)
    y0, y1 = 0.0069, 0.0599
    ax_t.add_patch(Rectangle((chron_start[0], y0), 1100.8 - chron_start[0], y1 - y0,
                             transform=trans, facecolor="white", edgecolor="#9a9a9a",
                             lw=1.2, zorder=4))
    for name, s, e, normal, lab in zip(chron_names, chron_start, chron_end,
                                       chron_normal, chron_label_age):
        if normal:
            ax_t.add_patch(Rectangle((s, y0), e - s, y1 - y0, transform=trans,
                                     facecolor="black", edgecolor="#9a9a9a",
                                     lw=1.0, zorder=5))
        ax_t.text(lab, (y0 + y1) / 2, name, transform=trans, ha="center",
                  va="center", fontsize=13.5, fontweight="bold",
                  color="white" if normal else "black", zorder=6)

    fig.savefig("out.png", dpi=100)


if __name__ == "__main__":
    main()
